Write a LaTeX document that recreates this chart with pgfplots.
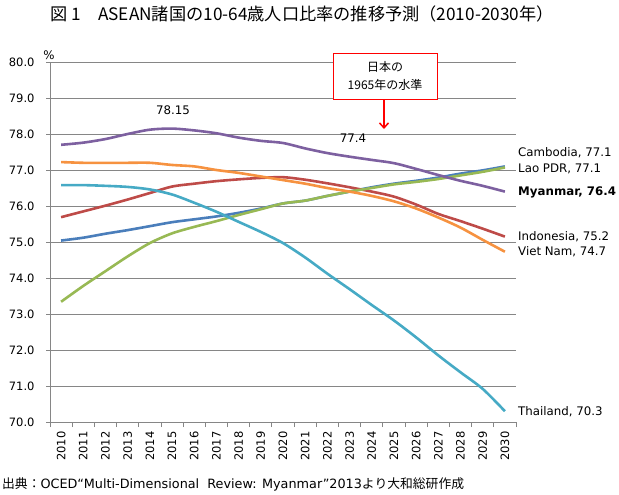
\documentclass[border=0pt]{standalone}
\usepackage{fontspec}
\setmainfont{DejaVu Sans}
\newfontfamily\cjk{Noto Sans CJK JP}
\usepackage{pgfplots}
\pgfplotsset{compat=1.18}
\usetikzlibrary{arrows.meta}

\definecolor{gridc}{HTML}{868686}
\definecolor{cCam}{HTML}{4A7EBB}
\definecolor{cInd}{HTML}{BE4B48}
\definecolor{cLao}{HTML}{98B954}
\definecolor{cMya}{HTML}{7D60A0}
\definecolor{cTha}{HTML}{46AAC5}
\definecolor{cVie}{HTML}{F69240}

% share of population aged 10-64 (%), by year
\pgfplotstableread{
year Cam   Ind   Lao   Mya   Tha   Vie
2010 75.04 75.69 73.34 77.70 76.58 77.22
2011 75.12 75.85 73.78 77.76 76.58 77.20
2012 75.23 76.01 74.19 77.86 76.56 77.20
2013 75.33 76.18 74.60 78.00 76.53 77.20
2014 75.44 76.36 74.97 78.12 76.46 77.20
2015 75.55 76.54 75.24 78.15 76.32 77.14
2016 75.63 76.62 75.42 78.10 76.09 77.10
2017 75.71 76.69 75.58 78.02 75.84 77.00
2018 75.81 76.74 75.75 77.90 75.56 76.92
2019 75.93 76.78 75.91 77.81 75.28 76.82
2020 76.07 76.80 76.07 77.75 74.97 76.72
2021 76.15 76.73 76.15 77.60 74.57 76.62
2022 76.28 76.63 76.28 77.47 74.12 76.50
2023 76.40 76.52 76.40 77.37 73.69 76.40
2024 76.52 76.40 76.50 77.28 73.25 76.28
2025 76.62 76.26 76.60 77.19 72.82 76.13
2026 76.70 76.04 76.67 77.03 72.35 75.93
2027 76.79 75.78 76.75 76.86 71.85 75.68
2028 76.90 75.58 76.85 76.70 71.38 75.40
2029 76.99 75.37 76.95 76.56 70.92 75.06
2030 77.10 75.15 77.07 76.40 70.30 74.73
}\asean

\begin{document}
\begin{tikzpicture}
\path[use as bounding box] (0,0) rectangle (619bp,-495bp);
\begin{axis}[
  at={(50bp,-422bp)}, anchor=south west,
  scale only axis, width=466bp, height=360bp,
  xmin=2009.5, xmax=2030.5, ymin=70, ymax=80,
  axis x line*=bottom, axis y line*=left,
  axis line style={draw=gridc, line width=0.9bp},
  ymajorgrids, grid style={draw=gridc, line width=0.9bp},
  ytick={70,71,...,80},
  xtick={2010,2011,...,2030},
  xticklabels={2010,2011,2012,2013,2014,2015,2016,2017,2018,2019,2020,
               2021,2022,2023,2024,2025,2026,2027,2028,2029,2030},
  minor xtick={2009.5,2010.5,...,2030.5},
  tick align=outside,
  major tick length=4bp, minor tick length=5bp,
  tick style={draw=gridc, line width=0.9bp},
  major x tick style={draw=none},
  every tick label/.append style={font=\fontsize{11.5bp}{13bp}\selectfont},
  /pgf/number format/assume math mode=true,
  yticklabel={\pgfmathprintnumber[fixed,fixed zerofill,precision=1]{\tick}},
  yticklabel shift=8bp,
  xticklabel style={rotate=90, anchor=east},
  xticklabel shift=2bp,
  every axis plot/.append style={line width=2.6bp, smooth, no markers},
]
\addplot[cCam] table[x=year,y=Cam] {\asean};
\addplot[cInd] table[x=year,y=Ind] {\asean};
\addplot[cLao] table[x=year,y=Lao] {\asean};
\addplot[cMya] table[x=year,y=Mya] {\asean};
\addplot[cTha] table[x=year,y=Tha] {\asean};
\addplot[cVie] table[x=year,y=Vie] {\asean};
\end{axis}

% title and source
\node at (302bp,-14bp) {\cjk\fontsize{17.2bp}{19bp}\selectfont 図 1　ASEAN諸国の10-64歳人口比率の推移予測（2010-2030年）};
\node[anchor=west, inner sep=0] at (2bp,-484bp) {\fontsize{12.8bp}{14bp}\selectfont{\cjk 出典：}OCED“Multi-Dimensional\ \ Review: Myanmar”2013{\cjk より大和総研作成}};

% labels
\begin{scope}[every node/.style={inner sep=0, font=\fontsize{11.8bp}{13bp}\selectfont}]
\node at (49bp,-55bp) {\%};
\node at (173bp,-110bp) {78.15};
\node at (353bp,-138bp) {77.4};
\node[anchor=west] at (518bp,-153bp) {Cambodia, 77.1};
\node[anchor=west] at (518bp,-169bp) {Lao PDR, 77.1};
\node[anchor=west] at (518bp,-192bp) {\bfseries Myanmar, 76.4};
\node[anchor=west] at (518bp,-237bp) {Indonesia, 75.2};
\node[anchor=west] at (518bp,-252bp) {Viet Nam, 74.7};
\node[anchor=west] at (518bp,-412bp) {Thailand, 70.3};
\end{scope}

% Japan 1965 box
\draw[red, line width=1bp, fill=white] (333bp,-53bp) rectangle (437bp,-99bp);
\node[font=\cjk\fontsize{12bp}{14bp}\selectfont] at (385bp,-67bp) {日本の};
\node[font=\cjk\fontsize{12bp}{14bp}\selectfont] at (385bp,-85bp) {1965年の水準};
\draw[red, line width=1.5bp, -{Straight Barb[length=5bp,width=9bp]}] (384bp,-99bp) -- (384bp,-129bp);
\end{tikzpicture}
\end{document}
